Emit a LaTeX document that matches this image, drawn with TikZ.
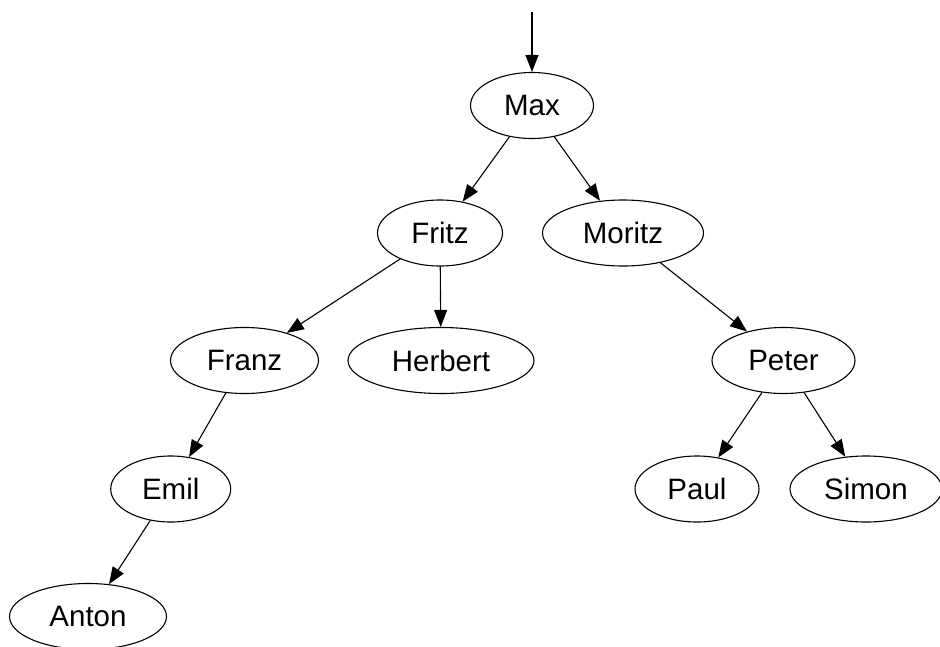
\documentclass[tikz,border=0pt]{standalone}
\usepackage{fontspec}
\setmainfont{Liberation Sans}
\usetikzlibrary{shapes.geometric,arrows.meta}
\begin{document}
\begin{tikzpicture}[x=1pt,y=-1pt,
  person/.style={draw,ellipse,line width=1.1pt,inner sep=0pt,minimum height=66pt,
    font=\fontsize{29.5}{34}\selectfont},
  edge/.style={line width=1.1pt,-{Triangle[length=17pt,width=13pt]}}]
\useasboundingbox (0,0) rectangle (940,646);
\coordinate (start) at (532,12);
\node[person,minimum width=123pt] (max) at (532,105.5) {Max};
\node[person,minimum width=125pt] (fritz) at (440,233) {Fritz};
\node[person,minimum width=161pt] (moritz) at (623,233) {Moritz};
\node[person,minimum width=148pt] (franz) at (244.5,360.5) {Franz};
\node[person,minimum width=186pt] (herbert) at (441,360.5) {Herbert};
\node[person,minimum width=143pt] (peter) at (783.5,360.5) {Peter};
\node[person,minimum width=120pt] (emil) at (170.7,489) {Emil};
\node[person,minimum width=124pt] (paul) at (697,489) {Paul};
\node[person,minimum width=152pt] (simon) at (866,489) {Simon};
\node[person,minimum width=157pt] (anton) at (88,616.5) {Anton};
\draw[edge] (start) -- (max);
\draw[edge] (max) -- (fritz);
\draw[edge] (max) -- (moritz);
\draw[edge] (fritz) -- (franz);
\draw[edge] (fritz) -- (herbert);
\draw[edge] (moritz) -- (peter);
\draw[edge] (franz) -- (emil);
\draw[edge] (emil) -- (anton);
\draw[edge] (peter) -- (paul);
\draw[edge] (peter) -- (simon);
\end{tikzpicture}
\end{document}
